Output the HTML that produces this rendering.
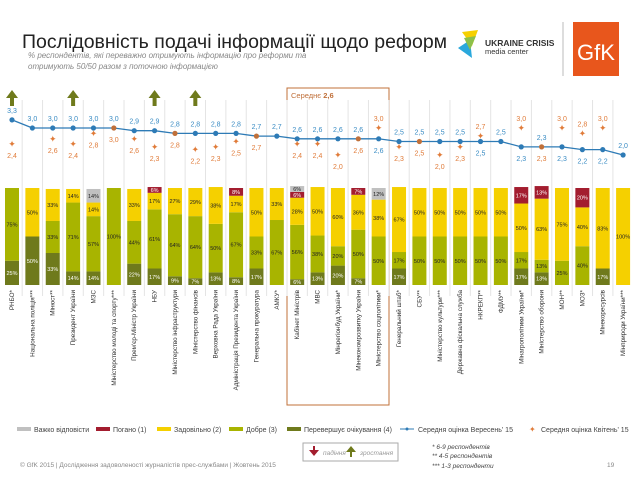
<!DOCTYPE html>
<html><head><meta charset="utf-8"><style>
body{margin:0;width:638px;height:479px;background:#fff;overflow:hidden;font-family:"Liberation Sans",sans-serif}
svg{position:absolute;left:0;top:0}
</style></head><body>
<svg id="c" width="638" height="479" viewBox="0 0 638 479" xmlns="http://www.w3.org/2000/svg">
<text x="22" y="48" font-size="19.5" fill="#222">Послідовність подачі інформації щодо реформ</text>
<text x="28" y="58" font-size="8" font-style="italic" fill="#888">% респондентів, які переважно отримують інформацію про реформи та</text>
<text x="28" y="69" font-size="8" font-style="italic" fill="#888">отримують 50/50 разом з поточною інформацією</text>
<g>
<polygon points="462,32 478,30 472,46" fill="#f5d000"/><polygon points="458,48 470,40 472,58" fill="#2aa8dc"/><polygon points="464,38 476,36 470,50" fill="#8cc04a"/>
<text x="485" y="46" font-size="8.5" font-weight="bold" fill="#333">UKRAINE CRISIS</text>
<text x="485" y="54" font-size="7.5" fill="#333">media center</text></g>
<line x1="563" y1="22" x2="563" y2="76" stroke="#bbb"/>
<g><rect x="573" y="22" width="46" height="54" fill="#e8561c"/><text x="596" y="60" font-size="22" fill="#fff" text-anchor="middle">GfK</text></g>
<rect x="287" y="88" width="102" height="317" fill="none" stroke="#c0703a" stroke-width="1"/>
<text x="291" y="98" font-size="7.5" fill="#c0703a">Середнє <tspan font-weight="bold">2,6</tspan></text>
<g id="cols"></g><g id="bars"></g><g id="lines"></g><g id="labels"></g>
<g font-size="7" fill="#444">
<rect x="17" y="427" width="14" height="4" fill="#c0c0c0"/><text x="34" y="432">Важко відповісти</text>
<rect x="96" y="427" width="14" height="4" fill="#a31d2f"/><text x="113" y="432">Погано (1)</text>
<rect x="157" y="427" width="14" height="4" fill="#f5d000"/><text x="174" y="432">Задовільно (2)</text>
<rect x="229" y="427" width="14" height="4" fill="#a8b400"/><text x="246" y="432">Добре (3)</text>
<rect x="287" y="427" width="14" height="4" fill="#6f7a1c"/><text x="304" y="432">Перевершує очікування (4)</text>
<line x1="400" y1="429" x2="414" y2="429" stroke="#2e7bb6"/><circle cx="407" cy="429" r="1.5" fill="#2e7bb6"/><text x="418" y="432">Середня оцінка Вересень' 15</text>
<text x="529" y="432" fill="#e07b39" font-size="8">✦</text><text x="541" y="432">Середня оцінка Квітень' 15</text></g>
<g>
<rect x="303" y="443" width="95" height="18" fill="#fff" stroke="#aaa"/>
<polygon points="309,450 313,450 313,446 315,446 315,450 319,450 314,456" fill="#a31d2f" transform="translate(0,0)"/>
<text x="323" y="455" font-size="6.5" font-style="italic" fill="#999">падіння</text>
<polygon points="346,452 350,452 350,457 352,457 352,452 356,452 351,446" fill="#6f7a1c"/>
<text x="360" y="455" font-size="6.5" font-style="italic" fill="#999">зростання</text></g>
<g font-size="6.5" font-style="italic" fill="#444">
<text x="432" y="449">* 6-9 респондентів</text><text x="432" y="458">** 4-5 респондентів</text><text x="432" y="468">*** 1-3 респонденти</text></g>
<text x="20" y="467" font-size="6.5" fill="#888">© GfK 2015 | Дослідження задоволеності журналістів прес-службами | Жовтень 2015</text>
<text x="607" y="467" font-size="6.5" fill="#888">19</text>
</svg>
<script>
const categories=["РНБО*","Національна поліція***","Мінюст**","Президент України","МЗС","Міністерство молоді та спорту***","Прем'єр-Міністр України","НБУ","Міністерство інфраструктури","Міністерство фінансів","Верховна Рада України","Адміністрація Президента України","Генеральна прокуратура","АМКУ*","Кабінет Міністрів","МВС","Мінрегіонбуд України*","Мінекономрозвитку України","Міністерство соцполітики*","Генеральний штаб*","СБУ**","Міністерство культури***","Державна фіскальна служба","НКРЕКП**","ФДМУ**","Мінагрополітики України*","Міністерство оборони","МОН**","МОЗ*","Мінекоресурсів","Мінприроди України***"];
const exceeds=[25,50,33,14,14,0,22,17,9,7,13,8,17,0,6,13,20,7,0,17,0,0,0,0,0,17,13,0,0,17,0];
const good=[75,0,33,71,57,100,44,61,64,64,50,67,33,67,56,38,20,50,50,17,50,50,50,50,50,17,13,25,40,0,0];
const satisf=[0,50,33,14,14,0,33,17,27,29,38,17,50,33,28,50,60,36,38,67,50,50,50,50,50,50,63,75,40,83,100];
const bad=[0,0,0,0,0,0,0,6,0,0,0,8,0,0,6,0,0,7,0,0,0,0,0,0,0,17,13,0,20,0,0];
const hard=[0,0,0,0,14,0,0,0,0,0,0,0,0,0,6,0,0,0,12,0,0,0,0,0,0,0,0,0,0,0,0];
const sepAvg=[3.3,3.0,3.0,3.0,3.0,3.0,2.9,2.9,2.8,2.8,2.8,2.8,2.7,2.7,2.6,2.6,2.6,2.6,2.6,2.5,2.5,2.5,2.5,2.5,2.5,2.3,2.3,2.3,2.2,2.2,2.0];
const aprAvg=[2.4,null,2.6,2.4,2.8,3.0,2.6,2.3,2.8,2.2,2.3,2.5,2.7,null,2.4,2.4,2.0,2.6,3.0,2.3,2.5,2.0,2.3,2.7,null,3.0,2.3,3.0,2.8,3.0,null];
const upArrows=[0,3,7,9];
const NS="http://www.w3.org/2000/svg";
const x=i=>12+i*20.37, yv=v=>128-(v-3.0)*27;
const BT=188,BB=285,yb=p=>BB-p*(BB-BT)/100;
function mk(t,a,p){const e=document.createElementNS(NS,t);for(const k in a)e.setAttribute(k,a[k]);document.getElementById(p).appendChild(e);return e;}
const fmt=v=>v.toFixed(1).replace('.',',');
const segs=[[exceeds,"#6f7a1c","#fff"],[good,"#a8b400","#222"],[satisf,"#f5d000","#222"],[bad,"#a31d2f","#fff"],[hard,"#c0c0c0","#222"]];
categories.forEach((c,i)=>{
 const cx=x(i);
 if(i>0){const l=mk('line',{x1:cx-10.2,y1:100,x2:cx-10.2,y2:296,stroke:'#e4e4e4'},'cols');
 
 }
 let acc=0;
 segs.forEach(([arr,col,tc],s)=>{const v=arr[i];if(!v)return;
  const r=mk('rect',{x:cx-7,y:yb(acc+v),width:14,height:yb(acc)-yb(acc+v),fill:col},'bars');
  
  
  const t=mk('text',{x:cx,y:(yb(acc)+yb(acc+v))/2+2,'font-size':5.5,'text-anchor':'middle',fill:tc},'bars');
  
  
  t.textContent=v+'%';acc+=v;});
 const lb=mk('text',{x:0,y:0,'font-size':6.3,fill:'#333','text-anchor':'end',transform:`translate(${cx+2},290) rotate(-90)`},'labels');
 
 
 lb.textContent=c;
});
let d='';sepAvg.forEach((v,i)=>d+=(i?'L':'M')+x(i)+','+yv(v));
const pl=mk('path',{d:d,fill:'none',stroke:'#2e7bb6','stroke-width':1.3},'lines');


sepAvg.forEach((v,i)=>{const cx=x(i),a=aprAvg[i];
 const same=a!==null&&a===v;
 const p=mk('circle',{cx:cx,cy:yv(v),r:2.6,fill:same?'#c0703a':'#2e7bb6'},'lines');
 
 
 const above=a===null||v>=a;
 const t=mk('text',{x:cx,y:above?yv(v)-7:yv(v)+14,'font-size':7,'text-anchor':'middle',fill:'#3a8cc4'},'lines');
 
 
 t.textContent=fmt(v);
 if(a!==null){
  if(!same){const m=mk('text',{x:cx,y:yv(a)+3,'font-size':9,'text-anchor':'middle',fill:'#e07b39'},'lines');
   
   
   m.textContent='✦';}
  const t2=mk('text',{x:cx,y:above?yv(a)+14:yv(a)-7,'font-size':7,'text-anchor':'middle',fill:'#e07b39'},'lines');
  
  
  t2.textContent=fmt(a);}
});
upArrows.forEach(i=>{const cx=x(i);
 const ar=mk('polygon',{points:`${cx-6},98 ${cx},90 ${cx+6},98 ${cx+2},98 ${cx+2},106 ${cx-2},106 ${cx-2},98`,fill:'#6f7a1c'},'lines');
 
 });
</script>
</body></html>
